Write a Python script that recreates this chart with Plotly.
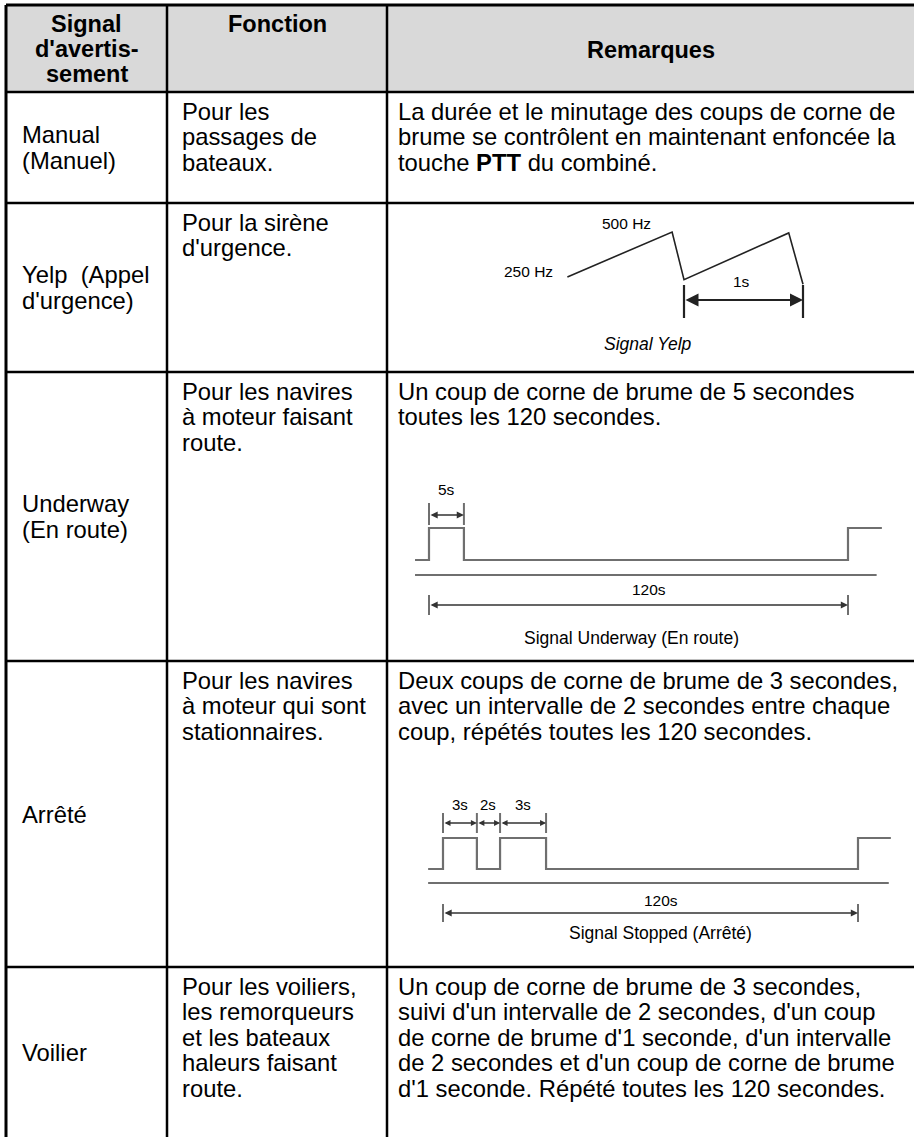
import plotly.graph_objects as go

W, H = 914, 1137
FONT = "Arial, 'Liberation Sans', sans-serif"

# ---------------- data ----------------
HEADER_SIGNAL = ["Signal", "d'avertis-", "sement"]
HEADER_FONCTION = ["Fonction"]
HEADER_REMARQUES = ["Remarques"]

SIGNAL_NAMES = [
    ["Manual", "(Manuel)"],
    ["Yelp\u00a0 (Appel", "d'urgence)"],
    ["Underway", "(En route)"],
    ["Arrêté"],
    ["Voilier"],
]
FONCTIONS = [
    ["Pour les", "passages de", "bateaux."],
    ["Pour la sirène", "d'urgence."],
    ["Pour les navires", "à moteur faisant", "route."],
    ["Pour les navires", "à moteur qui sont", "stationnaires."],
    ["Pour les voiliers,", "les remorqueurs", "et les bateaux", "haleurs faisant", "route."],
]
REMARQUES = [
    ["La durée et le minutage des coups de corne de",
     "brume se contrôlent en maintenant enfoncée la",
     "touche <b>PTT</b> du combiné."],
    [],
    ["Un coup de corne de brume de 5 secondes",
     "toutes les 120 secondes."],
    ["Deux coups de corne de brume de 3 secondes,",
     "avec un intervalle de 2 secondes entre chaque",
     "coup, répétés toutes les 120 secondes."],
    ["Un coup de corne de brume de 3 secondes,",
     "suivi d'un intervalle de 2 secondes, d'un coup",
     "de corne de brume d'1 seconde, d'un intervalle",
     "de 2 secondes et d'un coup de corne de brume",
     "d'1 seconde. Répété toutes les 120 secondes."],
]

# Yelp sweep (time in s, frequency in Hz)
YELP_T = [-0.98, -0.10, 0.0, 0.88, 1.0]
YELP_HZ = [250, 500, 235, 495, 210]
YELP_FREQ_LABELS = ["250 Hz", "500 Hz"]
YELP_PERIOD_LABEL = "1s"
YELP_CAPTION = "Signal Yelp"

# Underway timing diagram (schematic drawing units, period = 120)
UNDERWAY_X = [-4, 0, 0, 10, 10, 120, 120, 129.7]
UNDERWAY_LEVEL = [0, 0, 1, 1, 0, 0, 1, 1]
UNDERWAY_DIMS = [("5s", 0, 10)]
UNDERWAY_PERIOD = ("120s", 0, 120)
UNDERWAY_CAPTION = "Signal Underway (En route)"

# Stopped timing diagram (schematic drawing units, period = 120)
STOPPED_X = [-4.3, 0, 0, 9.8, 9.8, 16.5, 16.5, 29.8, 29.8, 120, 120, 129.5]
STOPPED_LEVEL = [0, 0, 1, 1, 0, 0, 1, 1, 0, 0, 1, 1]
STOPPED_DIMS = [("3s", 0, 9.8), ("2s", 9.8, 16.5), ("3s", 16.5, 29.8)]
STOPPED_PERIOD = ("120s", 0, 120)
STOPPED_CAPTION = "Signal Stopped (Arrêté)"

# ---------------- layout constants ----------------
COLS = [6, 167, 387, W + 2]
ROWS = [5, 92, 203, 372, 661, 967, 1137]
LH = 25.5
FS = 23.8
FS_HEAD = 23.5
TXT_PAD = [14, 13, 9]
FIRST_OFF = 19

fig = go.Figure()
ann = []
shapes = []

# header fill
shapes.append(dict(type="rect", xref="x", yref="y", x0=COLS[0], x1=COLS[-1],
                   y0=ROWS[0], y1=ROWS[1], fillcolor="#d9d9d9", line_width=0, layer="below"))
# horizontal rules
for i, yv in enumerate(ROWS[:-1]):
    shapes.append(dict(type="line", xref="x", yref="y", x0=COLS[0], x1=COLS[-1], y0=yv, y1=yv,
                       line=dict(color="black", width=3 if i == 0 else 2.5)))
# vertical rules
for i, xv in enumerate(COLS[:-1]):
    shapes.append(dict(type="line", xref="x", yref="y", x0=xv, x1=xv, y0=ROWS[0], y1=H + 2,
                       line=dict(color="black", width=3 if i == 0 else 2.5)))


def text(x, y, s, size=FS, anchor="left", bold=False, italic=False, xref="x"):
    if bold:
        s = "<b>" + s + "</b>"
    if italic:
        s = "<i>" + s + "</i>"
    ann.append(dict(x=x, y=y, xref=xref, yref="y", text=s, showarrow=False,
                    xanchor=anchor, yanchor="middle",
                    font=dict(family=FONT, size=size, color="black")))


# header texts
hx = [(COLS[0] + COLS[1]) / 2, (COLS[1] + COLS[2]) / 2, (COLS[2] + W) / 2]
for i, s in enumerate(HEADER_SIGNAL):
    text(hx[0], 24 + i * 25, s, size=FS_HEAD, anchor="center", bold=True)
text(hx[1], 24, HEADER_FONCTION[0], size=FS_HEAD, anchor="center", bold=True)
text(hx[2], (ROWS[0] + ROWS[1]) / 2 + 1, HEADER_REMARQUES[0], size=FS_HEAD, anchor="center", bold=True)

# body texts
for r in range(5):
    top, bot = ROWS[r + 1], ROWS[r + 2]
    mid = (top + bot) / 2
    lines = SIGNAL_NAMES[r]
    n = len(lines)
    for i, s in enumerate(lines):
        text(COLS[0] + TXT_PAD[0], mid + (i - (n - 1) / 2) * LH, s)
    for i, s in enumerate(FONCTIONS[r]):
        text(COLS[1] + TXT_PAD[1], top + FIRST_OFF + i * LH, s)
    for i, s in enumerate(REMARQUES[r]):
        text(COLS[2] + TXT_PAD[2], top + FIRST_OFF + i * LH, s)


# ---------------- diagram axes ----------------
def rng_x(origin_px, ppu):
    return [(0 - origin_px) / ppu, (W - origin_px) / ppu]


def rng_y(origin_px, ppu):
    return [(origin_px - H) / ppu, origin_px / ppu]


YELP_XO, YELP_XS = 684, 119.0
YELP_YO, YELP_YS = 322, 0.18
UW_XO, UW_XS = 429, (848 - 429) / 120
UW_YO, UW_YS = 560, 32
ST_XO, ST_XS = 443, (858 - 443) / 120
ST_YO, ST_YS = 869, 31

hidden = dict(visible=False, showgrid=False, zeroline=False, fixedrange=True)
layout_axes = dict(
    xaxis=dict(range=[0, W], domain=[0, 1], **hidden),
    yaxis=dict(range=[H, 0], domain=[0, 1], **hidden),
    xaxis2=dict(range=rng_x(YELP_XO, YELP_XS), overlaying="x", anchor="y", **hidden),
    yaxis2=dict(range=rng_y(YELP_YO, YELP_YS), overlaying="y", anchor="x", **hidden),
    xaxis3=dict(range=rng_x(UW_XO, UW_XS), overlaying="x", anchor="y", **hidden),
    yaxis3=dict(range=rng_y(UW_YO, UW_YS), overlaying="y", anchor="x", **hidden),
    xaxis4=dict(range=rng_x(ST_XO, ST_XS), overlaying="x", anchor="y", **hidden),
    yaxis4=dict(range=rng_y(ST_YO, ST_YS), overlaying="y", anchor="x", **hidden),
)

GRAY = "#6f6f6f"
DARK = "#222222"


def seg_trace(xa, xs_pairs, ys_pairs, color, width):
    xs, ys = [], []
    for (a, b), (c, d) in zip(xs_pairs, ys_pairs):
        xs += [a, b, None]
        ys += [c, d, None]
    fig.add_trace(go.Scatter(x=xs, y=ys, xaxis=xa, yaxis="y", mode="lines",
                             line=dict(color=color, width=width), hoverinfo="skip",
                             showlegend=False))


def arrow(xa, x0, x1, y, color, width, head, size):
    ann.append(dict(x=x1, y=y, ax=x0, ay=y, xref=xa, yref="y", axref=xa, ayref="y",
                    text="", showarrow=True, arrowside="end+start", arrowhead=head,
                    arrowsize=size, arrowwidth=width, arrowcolor=color,
                    standoff=0, startstandoff=0))


# ---- Yelp ----
fig.add_trace(go.Scatter(x=YELP_T, y=YELP_HZ, xaxis="x2", yaxis="y2", mode="lines",
                         line=dict(color=DARK, width=1.6), hoverinfo="skip", showlegend=False))
seg_trace("x2", [(0, 0), (YELP_T[-1], YELP_T[-1])], [(285, 318), (285, 318)], DARK, 2.2)
arrow("x2", 0, YELP_T[-1], 300, DARK, 2, 2, 1.3)
ann.append(dict(x=YELP_T[1] - 0.38, y=YELP_HZ[1] + 50, xref="x2", yref="y2", text=YELP_FREQ_LABELS[1],
                showarrow=False, font=dict(family=FONT, size=15.5, color="black")))
ann.append(dict(x=YELP_T[0] - 0.33, y=YELP_HZ[0] + 28, xref="x2", yref="y2", text=YELP_FREQ_LABELS[0],
                showarrow=False, font=dict(family=FONT, size=15.5, color="black")))
ann.append(dict(x=(0 + YELP_T[-1]) / 2 - 0.02, y=281, xref="x2", yref="y", text=YELP_PERIOD_LABEL,
                showarrow=False, font=dict(family=FONT, size=15.5, color="black")))
text(hx[2] - 3, 344, YELP_CAPTION, size=17.5, anchor="center", italic=True)

# ---- Underway ----
fig.add_trace(go.Scatter(x=UNDERWAY_X, y=UNDERWAY_LEVEL, xaxis="x3", yaxis="y3", mode="lines",
                         line=dict(color=GRAY, width=2.2), hoverinfo="skip", showlegend=False))
seg_trace("x3", [(UNDERWAY_X[0], UNDERWAY_X[-1] - 1.5)], [(575, 575)], GRAY, 2.2)
for lab, a, b in UNDERWAY_DIMS:
    seg_trace("x3", [(a, a), (b, b)], [(503, 525), (503, 525)], GRAY, 2)
    arrow("x3", a, b, 515, "#333", 1.6, 2, 0.9)
    ann.append(dict(x=(a + b) / 2, y=489, xref="x3", yref="y", text=lab, showarrow=False,
                    font=dict(family=FONT, size=15.5, color="black")))
lab, a, b = UNDERWAY_PERIOD
seg_trace("x3", [(a, a), (b, b)], [(595, 615), (595, 615)], GRAY, 2)
arrow("x3", a, b, 605, "#333", 1.6, 2, 0.9)
ann.append(dict(x=(a + b) / 2 + 3, y=589, xref="x3", yref="y", text=lab, showarrow=False,
                font=dict(family=FONT, size=15.5, color="black")))
ann.append(dict(x=(a + b) / 2 - 2, y=638, xref="x3", yref="y", text=UNDERWAY_CAPTION, showarrow=False,
                font=dict(family=FONT, size=17.5, color="black")))

# ---- Stopped ----
fig.add_trace(go.Scatter(x=STOPPED_X, y=STOPPED_LEVEL, xaxis="x4", yaxis="y4", mode="lines",
                         line=dict(color=GRAY, width=2.2), hoverinfo="skip", showlegend=False))
seg_trace("x4", [(STOPPED_X[0], STOPPED_X[-1] - 0.6)], [(883, 883)], GRAY, 2.2)
ticks = sorted(set([d[1] for d in STOPPED_DIMS] + [d[2] for d in STOPPED_DIMS]))
seg_trace("x4", [(t, t) for t in ticks], [(813, 833)] * len(ticks), GRAY, 2)
for lab, a, b in STOPPED_DIMS:
    arrow("x4", a, b, 823, "#333", 1.5, 2, 0.8)
    ann.append(dict(x=(a + b) / 2, y=804, xref="x4", yref="y", text=lab, showarrow=False,
                    font=dict(family=FONT, size=15, color="black")))
lab, a, b = STOPPED_PERIOD
seg_trace("x4", [(a, a), (b, b)], [(904, 922), (904, 922)], GRAY, 2)
arrow("x4", a, b, 913, "#333", 1.6, 2, 0.9)
ann.append(dict(x=(a + b) / 2 + 3, y=900, xref="x4", yref="y", text=lab, showarrow=False,
                font=dict(family=FONT, size=15.5, color="black")))
ann.append(dict(x=(a + b) / 2 + 3, y=933, xref="x4", yref="y", text=STOPPED_CAPTION, showarrow=False,
                font=dict(family=FONT, size=17.5, color="black")))

fig.update_layout(
    width=W, height=H, margin=dict(l=0, r=0, t=0, b=0),
    paper_bgcolor="white", plot_bgcolor="white",
    showlegend=False, annotations=ann, shapes=shapes, **layout_axes,
)

fig.write_html("out.html", config={"displayModeBar": False},
               post_script="document.body.style.margin='0';document.body.style.overflow='hidden';")
